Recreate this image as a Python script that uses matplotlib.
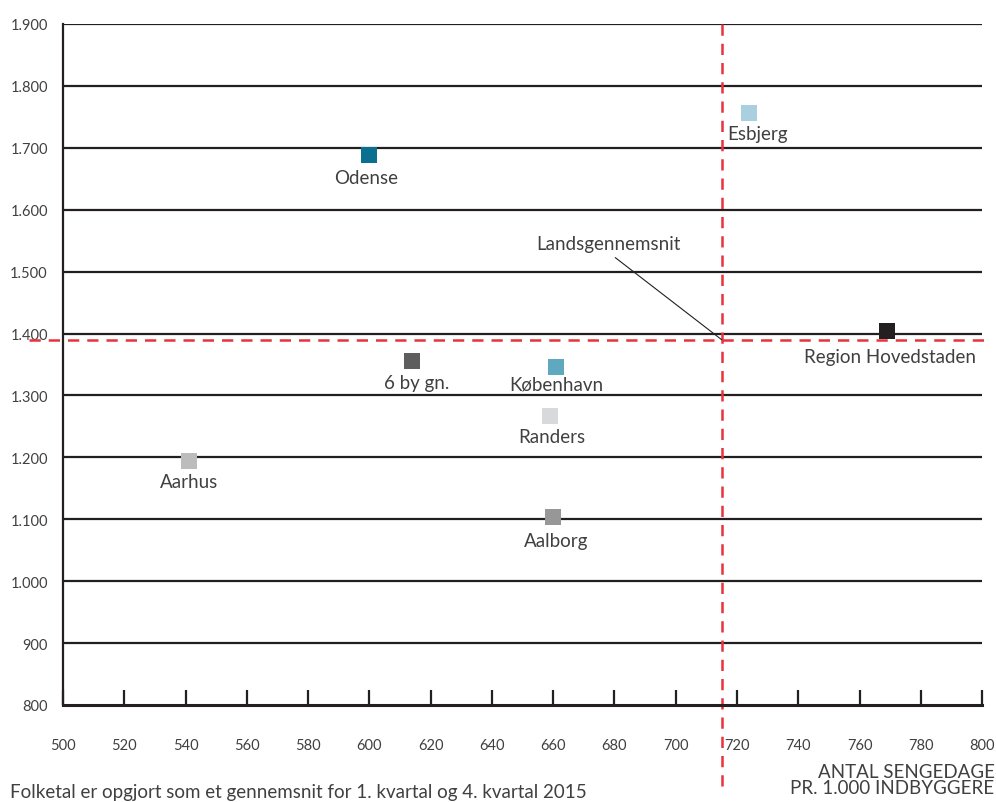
import matplotlib
matplotlib.use("Agg")
import matplotlib.pyplot as plt

plt.rcParams['font.family'] = ['Lato', 'DejaVu Sans']

# data
names = ['Odense', 'Esbjerg', 'Region Hovedstaden', '6 by gn.', 'København',
         'Randers', 'Aarhus', 'Aalborg']
sengedage = [600, 724, 769, 614, 661, 659, 541, 660]
folketal = [1688, 1756, 1404, 1356, 1346, 1267, 1194, 1104]
colors = ['#0b6f8f', '#a9cfe1', '#231f20', '#5e5e5e', '#5ea8c0',
          '#d8d9db', '#bcbcbd', '#979797']

avg_x = 715
avg_y = 1390

x_ticks = list(range(500, 801, 20))
y_ticks = list(range(800, 1901, 100))
y_labels = ['{:,}'.format(v).replace(',', '.') for v in y_ticks]

# label offsets (points) under each marker
label_dx = [-2, 6, 2, 3, 0, 1, 0, 2]
label_dy = [-16, -15, -18, -16, -12, -15, -15, -17]

text_col = '#404040'

fig = plt.figure(figsize=(9.96, 8.03), dpi=100)
ax = fig.add_axes([0.0633, 0.1208, 0.9227, 0.8481])

ax.set_xlim(500, 800)
ax.set_ylim(800, 1900)

# horizontal grid lines
for v in y_ticks[1:]:
    ax.axhline(v, color='#231f20', lw=1.6, zorder=1)

for s in ['top', 'right']:
    ax.spines[s].set_visible(False)
ax.spines['left'].set_linewidth(1.6)
ax.spines['left'].set_color('#231f20')
ax.spines['bottom'].set_linewidth(2.2)
ax.spines['bottom'].set_color('#231f20')

ax.set_xticks(x_ticks)
ax.set_xticklabels([str(v) for v in x_ticks])
ax.set_yticks(y_ticks)
ax.set_yticklabels(y_labels)
ax.tick_params(axis='x', direction='in', length=11, width=1.6, color='#231f20',
               pad=24, labelsize=10.5, labelcolor=text_col)
ax.tick_params(axis='y', length=0, pad=11, labelsize=10.5, labelcolor=text_col)

# national average lines
red = '#e8323c'
ax.plot([489, 802], [avg_y, avg_y], color=red, lw=1.8, dashes=(4.5, 3.2),
        clip_on=False, zorder=2)
ax.plot([avg_x, avg_x], [1900, 660], color=red, lw=1.8, dashes=(4.5, 3.2),
        clip_on=False, zorder=2)

ax.annotate('Landsgennemsnit', xy=(avg_x, avg_y), xytext=(678, 1545),
            ha='center', va='center', fontsize=13.5, color=text_col,
            arrowprops=dict(arrowstyle='-', color='#231f20', lw=0.8,
                            relpos=(0.5, 0), shrinkA=3, shrinkB=0))

# markers
for n, x, y, c, dx, dy in zip(names, sengedage, folketal, colors,
                              label_dx, label_dy):
    ax.scatter(x, y, s=120, marker='s', color=c, zorder=4, linewidths=0)
    ax.annotate(n, xy=(x, y), xytext=(dx, dy), textcoords='offset points',
                ha='center', va='center', fontsize=13.5, color=text_col)

fig.text(0.9985, 0.028, 'ANTAL SENGEDAGE\nPR. 1.000 INDBYGGERE', ha='right',
         va='center', fontsize=13.5, color=text_col, linespacing=0.95)
fig.text(0.01, 0.003, 'Folketal er opgjort som et gennemsnit for 1. kvartal og 4. kvartal 2015',
         ha='left', va='bottom', fontsize=13.5, color=text_col)

fig.savefig('out.png', dpi=100)
